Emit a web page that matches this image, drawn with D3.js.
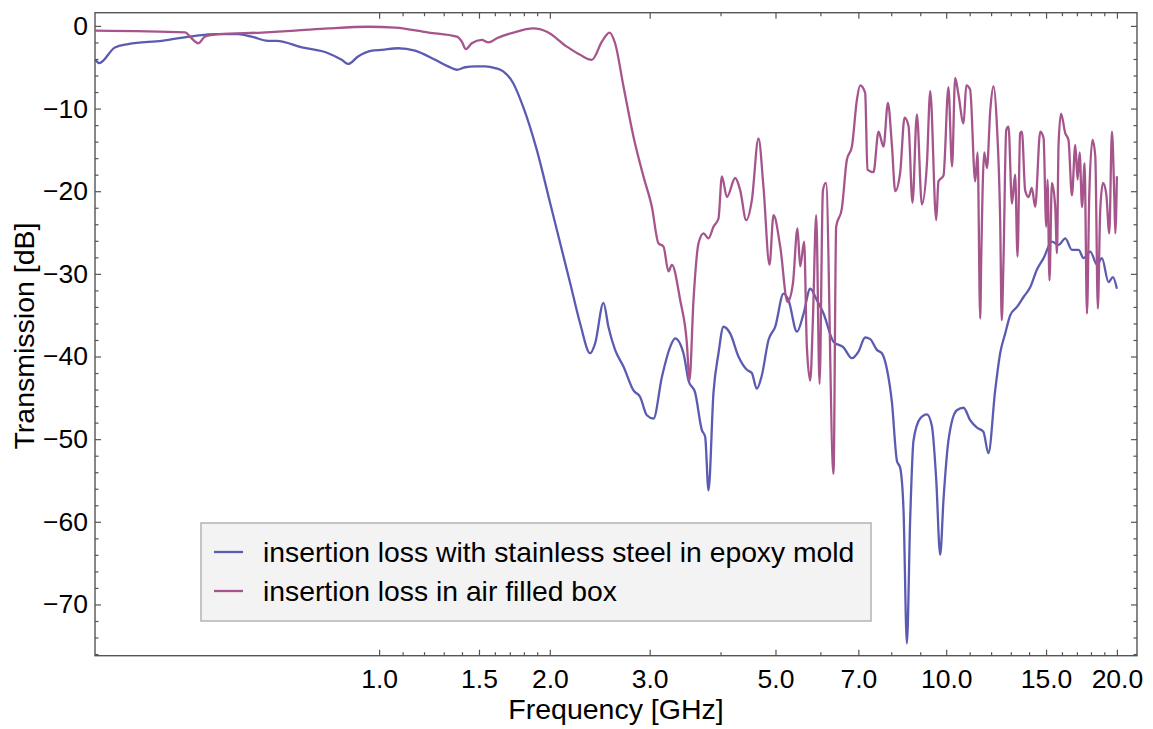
<!DOCTYPE html>
<html>
<head>
<meta charset="utf-8">
<script src="https://cdn.jsdelivr.net/npm/d3@7"></script>
<style>
  body { margin: 0; background: #fff; }
  text { font-family: "Liberation Sans", Arial, sans-serif; fill: #000; }
</style>
</head>
<body>
<svg id="chart" width="1153" height="729"></svg>
<script>
// measured transmission, stainless steel sample in epoxy mold
const freqSteel = [0.316,0.321,0.342,0.361,0.414,0.474,0.514,0.564,0.596,0.637,0.660,0.731,0.813,0.859,0.882,0.918,0.971,1.011,1.080,1.157,
  1.255,1.323,1.371,1.418,1.476,1.538,1.602,1.655,1.723,1.795,1.897,2.002,2.086,2.172,2.262,2.356,2.404,2.487,2.537,2.607,
  2.697,2.809,2.886,2.966,3.047,3.152,3.262,3.327,3.441,3.512,3.609,3.708,3.758,3.809,3.887,3.967,4.048,4.159,4.302,4.451,
  4.542,4.635,4.730,4.860,4.994,5.166,5.272,5.455,5.604,5.758,5.916,6.077,6.328,6.590,6.819,7.004,7.196,7.345,7.547,7.702,
  7.860,8.021,8.186,8.297,8.409,8.525,8.640,8.756,8.996,9.247,9.436,9.603,9.759,9.891,10.09,10.44,10.73,11.02,11.33,11.63,
  11.87,12.20,12.45,12.71,12.97,13.33,13.69,14.07,14.45,14.85,15.36,15.78,16.22,16.66,17.12,17.47,17.95,18.45,18.82,19.33,
  19.68,20.0];
const lossSteel = [-4.1,-4.5,-2.6,-2.2,-1.8,-1.2,-1.0,-1.0,-1.3,-1.8,-1.8,-2.6,-3.3,-4.1,-4.6,-3.7,-3.0,-2.9,-2.7,-3.0,
  -4.1,-4.9,-5.3,-5.0,-4.9,-4.9,-5.1,-5.5,-6.9,-9.8,-15.0,-21.4,-26.3,-31.1,-36.0,-39.6,-38.4,-33.5,-36.4,-39.2,
  -41.2,-44.1,-44.9,-47.1,-47.5,-42.5,-38.8,-37.8,-39.6,-42.9,-44.4,-48.9,-49.7,-56.2,-44.4,-39.6,-36.4,-37.2,-40.0,-41.6,
  -42.0,-43.9,-42.3,-38.0,-36.4,-32.4,-33.2,-37.0,-34.8,-31.8,-33.2,-34.8,-38.2,-38.9,-40.2,-39.4,-37.7,-37.9,-39.2,-39.6,
  -41.5,-45.5,-52.6,-53.5,-58.6,-74.7,-59.6,-50.2,-47.5,-47.0,-48.4,-54.9,-64.0,-57.3,-50.2,-46.5,-46.2,-47.7,-48.6,-49.1,
  -51.7,-44.1,-39.6,-37.2,-35.0,-34.0,-32.8,-31.6,-29.5,-28.1,-26.1,-26.5,-25.7,-27.1,-27.1,-28.1,-27.3,-28.9,-28.1,-31.0,
  -30.4,-31.8];

// measured transmission, empty air filled box
const freqAir = [0.316,0.455,0.464,0.480,0.493,0.521,0.621,0.711,0.814,0.957,1.067,1.222,1.371,1.399,1.422,1.457,1.517,1.559,1.613,1.725,
  1.871,1.976,2.143,2.262,2.372,2.471,2.548,2.607,2.697,2.809,2.925,3.027,3.109,3.173,3.238,3.283,3.396,3.489,3.526,3.584,
  3.658,3.733,3.809,3.887,3.967,4.022,4.105,4.246,4.333,4.440,4.542,4.667,4.762,4.880,4.960,5.097,5.251,5.366,5.467,5.527,
  5.617,5.679,5.758,5.820,5.899,5.980,6.062,6.137,6.328,6.397,6.546,6.681,6.819,6.957,7.051,7.196,7.264,7.444,7.597,7.753,
  7.893,8.021,8.131,8.297,8.444,8.581,8.721,8.878,9.060,9.247,9.372,9.603,9.692,9.891,10.09,10.24,10.37,10.51,10.73,10.85,
  11.02,11.25,11.36,11.48,11.53,11.67,11.80,11.96,12.12,12.29,12.45,12.53,12.62,12.76,12.88,13.06,13.23,13.36,13.50,13.60,
  13.78,13.97,14.16,14.35,14.65,14.85,15.01,15.09,15.21,15.36,15.57,15.68,15.78,15.94,16.22,16.43,16.66,16.89,17.05,17.19,
  17.36,17.54,17.71,17.88,18.11,18.32,18.51,18.69,18.90,19.15,19.39,19.60,19.79,19.87,20.0];
const lossAir = [-0.57,-0.77,-1.3,-2.1,-1.3,-1.0,-0.8,-0.57,-0.3,-0.1,-0.2,-0.8,-1.3,-1.9,-2.8,-2.1,-1.7,-2.0,-1.5,-0.8,
  -0.3,-0.7,-2.5,-3.5,-4.1,-1.9,-0.8,-2.1,-7.3,-13.4,-18.2,-21.9,-26.3,-26.7,-29.7,-28.9,-33.2,-38.4,-42.9,-33.2,
  -26.3,-25.1,-25.7,-24.3,-23.3,-18.2,-20.7,-18.4,-19.9,-23.5,-21.1,-13.6,-19.5,-28.9,-22.9,-26.7,-33.4,-31.2,-24.5,-29.1,
  -26.1,-38.8,-42.9,-35.6,-22.9,-43.3,-19.9,-19.0,-54.2,-24.3,-22.1,-16.2,-14.6,-9.0,-7.2,-8.1,-17.4,-17.7,-12.8,-14.6,
  -9.3,-14.4,-20.0,-17.7,-11.1,-12.1,-21.4,-10.7,-21.6,-16.7,-7.9,-23.5,-18.8,-18.1,-7.4,-17.0,-6.3,-8.3,-11.8,-7.2,
  -7.7,-18.8,-15.3,-35.4,-27.9,-15.3,-17.2,-10.2,-7.3,-12.2,-23.5,-35.6,-28.3,-12.6,-12.2,-21.5,-18.0,-27.9,-13.0,-12.8,
  -19.9,-20.7,-19.6,-21.9,-12.8,-13.6,-24.3,-18.6,-30.8,-19.0,-21.9,-27.5,-14.4,-10.6,-13.0,-13.8,-20.5,-14.4,-18.6,-15.3,
  -21.9,-16.6,-34.8,-20.3,-13.8,-15.8,-34.2,-22.3,-19.0,-20.3,-25.1,-12.8,-20.7,-25.1,-18.2];

const xMajor = [1, 1.5, 2, 3, 5, 7, 10, 15, 20];
const xMinor = [1.1,1.2,1.3,1.4,1.6,1.7,1.8,1.9,4,6,8,9,11,12,13,14,16,17,18,19];
const yMajor = [0, -10, -20, -30, -40, -50, -60, -70];
const yMinor = d3.range(0, -77, -2).filter(v => v % 10 !== 0);
const seriesNames = ["insertion loss with stainless steel in epoxy mold", "insertion loss in air filled box"];
const seriesColors = ["#5b5bb2", "#a5558c"];

const plotLeft = 95, plotRight = 1137, plotTop = 12.7, plotBottom = 655.7;

const x = d3.scaleLog().domain([0.3155, 21.7]).range([plotLeft, plotRight]);
const y = d3.scaleLinear().domain([1.6, -76.2]).range([plotTop, plotBottom]);

const svg = d3.select("#chart");

svg.append("defs").append("clipPath").attr("id", "plotclip")
   .append("rect").attr("x", plotLeft).attr("y", plotTop)
   .attr("width", plotRight - plotLeft).attr("height", plotBottom - plotTop);

let line = d3.line().x(d => x(d[0])).y(d => y(d[1])).curve(d3.curveMonotoneX);

const steel = freqSteel.map((f, i) => [f, lossSteel[i]]);
const air = freqAir.map((f, i) => [f, lossAir[i]]);

const plot = svg.append("g").attr("clip-path", "url(#plotclip)");
[steel, air].forEach((s, i) => {
  plot.append("path")
      .datum(s)
      .attr("d", line)
      .attr("fill", "none")
      .attr("stroke", seriesColors[i])
      .attr("stroke-width", 2.3)
      .attr("stroke-linejoin", "round");
});

// frame axes, ticks point inward
const fmtX = d3.format(".1f");
const fmtY = v => v === 0 ? "0" : "\u2212" + Math.abs(v);

function styleAxis(g) {
  g.select(".domain").remove();
  g.selectAll(".tick line").attr("stroke", "#555").attr("stroke-width", 1.2);
  g.selectAll(".tick text").attr("font-size", 26.5).attr("fill", "#000");
}

svg.append("g").attr("transform", `translate(0,${plotBottom})`)
   .call(d3.axisBottom(x).tickValues(xMajor).tickFormat(fmtX).tickSizeInner(-6).tickPadding(13))
   .call(styleAxis);
svg.append("g").attr("transform", `translate(0,${plotBottom})`)
   .call(d3.axisBottom(x).tickValues(xMinor).tickFormat("").tickSizeInner(-3.5))
   .call(styleAxis);
svg.append("g").attr("transform", `translate(0,${plotTop})`)
   .call(d3.axisTop(x).tickValues(xMajor).tickFormat("").tickSizeInner(-6))
   .call(styleAxis);
svg.append("g").attr("transform", `translate(0,${plotTop})`)
   .call(d3.axisTop(x).tickValues(xMinor).tickFormat("").tickSizeInner(-3.5))
   .call(styleAxis);

svg.append("g").attr("transform", `translate(${plotLeft},0)`)
   .call(d3.axisLeft(y).tickValues(yMajor).tickFormat(fmtY).tickSizeInner(-6).tickPadding(7))
   .call(styleAxis);
svg.append("g").attr("transform", `translate(${plotLeft},0)`)
   .call(d3.axisLeft(y).tickValues(yMinor).tickFormat("").tickSizeInner(-3.5))
   .call(styleAxis);
svg.append("g").attr("transform", `translate(${plotRight},0)`)
   .call(d3.axisRight(y).tickValues(yMajor).tickFormat("").tickSizeInner(-6))
   .call(styleAxis);
svg.append("g").attr("transform", `translate(${plotRight},0)`)
   .call(d3.axisRight(y).tickValues(yMinor).tickFormat("").tickSizeInner(-3.5))
   .call(styleAxis);

svg.append("rect")
   .attr("x", plotLeft).attr("y", plotTop)
   .attr("width", plotRight - plotLeft).attr("height", plotBottom - plotTop)
   .attr("fill", "none").attr("stroke", "#555").attr("stroke-width", 1.4);

// axis titles
svg.append("text")
   .attr("x", (plotLeft + plotRight) / 2).attr("y", 719)
   .attr("text-anchor", "middle").attr("font-size", 28.5)
   .text("Frequency [GHz]");
svg.append("text")
   .attr("transform", "translate(34,336) rotate(-90)")
   .attr("text-anchor", "middle").attr("font-size", 28.5)
   .text("Transmission [dB]");

// legend
const legend = svg.append("g");
legend.append("rect")
   .attr("x", 201).attr("y", 523).attr("width", 670).attr("height", 98)
   .attr("fill", "#f3f3f3").attr("stroke", "#b4b4b4").attr("stroke-width", 1.5);
seriesNames.forEach((name, i) => {
  const cy = 552 + i * 39;
  legend.append("line")
     .attr("x1", 214).attr("x2", 243).attr("y1", cy).attr("y2", cy)
     .attr("stroke", seriesColors[i]).attr("stroke-width", 2.3);
  legend.append("text")
     .attr("x", 263).attr("y", cy).attr("dy", "0.35em")
     .attr("font-size", 28.3)
     .text(name);
});
</script>
</body>
</html>
